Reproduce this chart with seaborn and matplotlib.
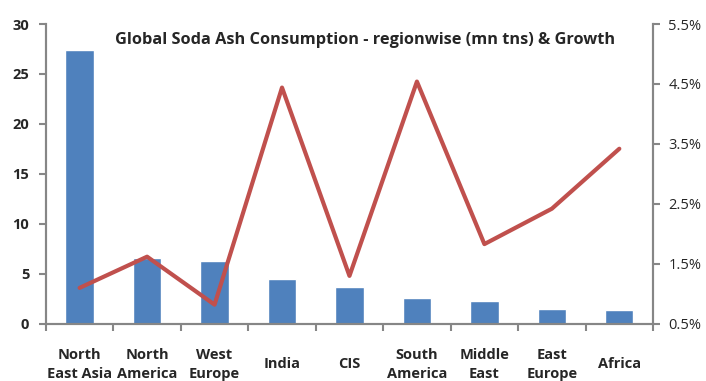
import numpy as np
import pandas as pd
import matplotlib
matplotlib.use("Agg")
import matplotlib.pyplot as plt
import seaborn as sns
from matplotlib.ticker import FuncFormatter, FixedLocator

# Data
regions = ["North\nEast Asia", "North\nAmerica", "West\nEurope", "India", "CIS",
           "South\nAmerica", "Middle\nEast", "East\nEurope", "Africa"]
consumption = [27.4, 6.6, 6.3, 4.5, 3.7, 2.6, 2.3, 1.5, 1.4]       # mn tns
growth = [1.1, 1.62, 0.82, 4.44, 1.3, 4.54, 1.83, 2.42, 3.42]        # %
left_ticks = [0, 5, 10, 15, 20, 25, 30]
right_ticks = [0.5, 1.5, 2.5, 3.5, 4.5, 5.5]

df = pd.DataFrame({"region": regions, "consumption": consumption, "growth": growth})

sns.set_style("white")
plt.rcParams["font.family"] = ["Open Sans", "DejaVu Sans"]

fig, ax = plt.subplots(figsize=(7.06, 3.81), dpi=100)
fig.subplots_adjust(left=0.065, right=0.925, bottom=0.15, top=0.937)

grey = "#868686"

sns.barplot(data=df, x="region", y="consumption", color="#4F81BD", width=0.42,
            saturation=1, ax=ax)
ax.set_xlim(-0.5, len(regions) - 0.5)
ax.set_ylim(0, 30)
ax.set_xlabel("")
ax.set_ylabel("")

ax2 = ax.twinx()
sns.lineplot(x=np.arange(len(regions)), y=df["growth"], color="#C0504D",
             linewidth=3, ax=ax2)
ax2.set_ylim(0.5, 5.5)
ax2.set_yticks(right_ticks)
ax2.yaxis.set_major_formatter(FuncFormatter(lambda v, p: f"{v:.1f}%"))
ax2.set_ylabel("")

for a in (ax, ax2):
    a.spines["top"].set_visible(False)
    for s in ("left", "right", "bottom"):
        a.spines[s].set_color(grey)
        a.spines[s].set_linewidth(1.5)

# x ticks: labels at centres, marks at category boundaries
ax.set_xticks(range(len(regions)), labels=regions, fontweight="bold",
              va="center", linespacing=1.45)
ax.tick_params(axis="x", which="major", length=0, pad=29, labelsize=10.5)
ax.xaxis.set_minor_locator(FixedLocator(np.arange(-0.5, len(regions), 1)))
ax.tick_params(axis="x", which="minor", length=5, width=1.5, color=grey, bottom=True)

ax.set_yticks(left_ticks, labels=[str(t) for t in left_ticks], fontweight="bold")
ax.tick_params(axis="y", left=True, length=5, width=1.5, color=grey, labelsize=10.5, pad=7)
ax2.tick_params(axis="y", right=True, length=5, width=1.5, color=grey, labelsize=10.5, pad=6)

ax.text(0.526, 0.947, "Global Soda Ash Consumption - regionwise (mn tns) & Growth",
        transform=ax.transAxes, ha="center", va="center", fontsize=11.8,
        fontweight="bold")

fig.savefig("out.png", dpi=100)
